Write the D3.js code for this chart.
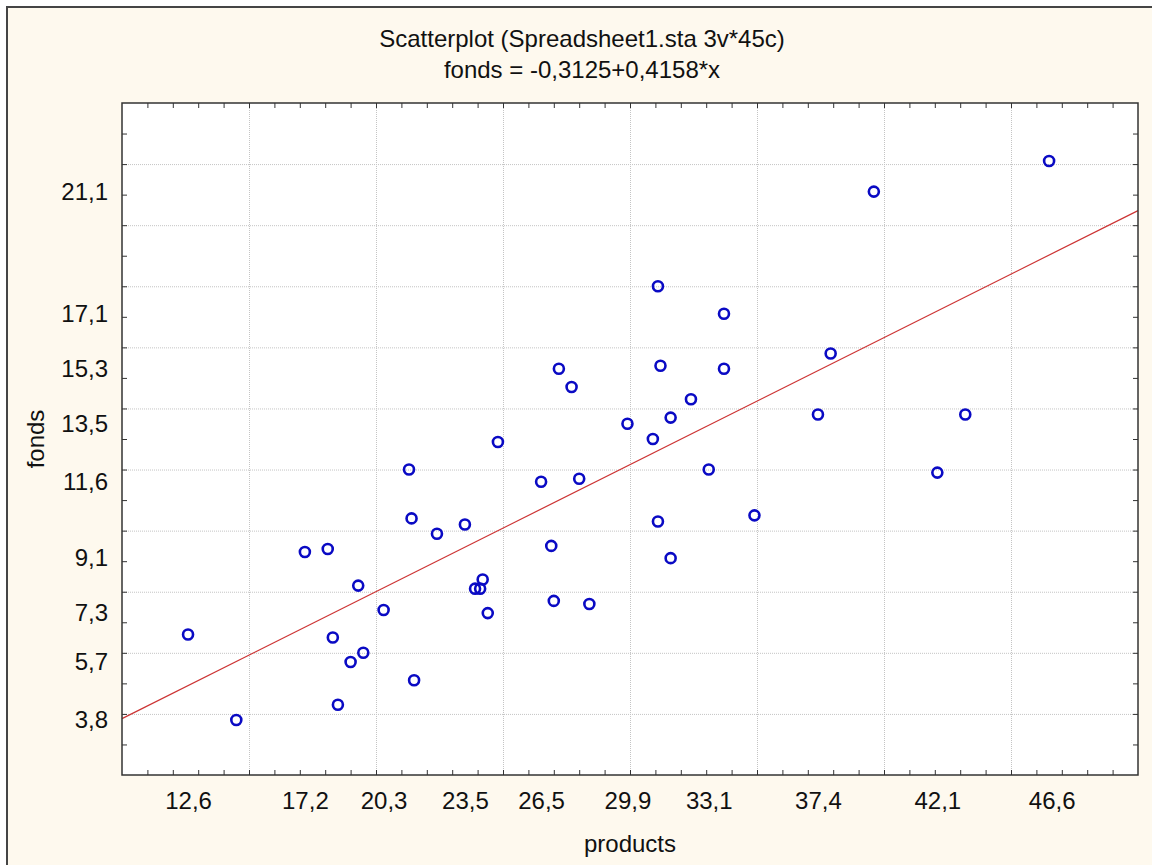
<!DOCTYPE html>
<html>
<head>
<meta charset="utf-8">
<script src="https://cdn.jsdelivr.net/npm/d3@7"></script>
<style>
	body { margin: 0; background: #fff; }
	text { font-family: 'Liberation Sans', Arial, sans-serif; fill: #111; }
	.grid line { stroke: #c4c4c4; stroke-dasharray: 1,1; }
	.grid path { stroke: none; }
	.minor line { stroke: #333; }
	.minor path { stroke: none; }
	.labels path, .labels line { stroke: none; }
</style>
</head>
<body>
<script>

// data (products, fonds)
var products = [12.6, 14.5, 17.2, 18.1, 18.3, 18.5, 19.0, 19.3, 19.5, 20.3,
	21.3, 21.4, 21.5, 22.4, 23.5, 23.9, 24.1, 24.2, 24.4, 24.8,
	26.5, 26.9, 27.0, 27.2, 27.7, 28.0, 28.4, 29.9, 30.9, 31.1,
	31.1, 31.2, 31.6, 31.6, 32.4, 33.1, 33.7, 33.7, 34.9, 37.4,
	37.9, 39.6, 42.1, 43.2, 46.5];
var fonds = [6.6, 3.8, 9.3, 9.4, 6.5, 4.3, 5.7, 8.2, 6.0, 7.4,
	12.0, 10.4, 5.1, 9.9, 10.2, 8.1, 8.1, 8.4, 7.3, 12.9,
	11.6, 9.5, 7.7, 15.3, 14.7, 11.7, 7.6, 13.5, 13.0, 18.0,
	10.3, 15.4, 13.7, 9.1, 14.3, 12.0, 17.1, 15.3, 10.5, 13.8,
	15.8, 21.1, 11.9, 13.8, 22.1];

var xTickLabels = [12.6, 17.2, 20.3, 23.5, 26.5, 29.9, 33.1, 37.4, 42.1, 46.6];
var yTickLabels = [3.8, 5.7, 7.3, 9.1, 11.6, 13.5, 15.3, 17.1, 21.1];

var xGrid = [15, 20, 25, 30, 35, 40, 45];
var yGrid = [4, 6, 8, 10, 12, 14, 16, 18, 20, 22];

var intercept = -0.3125,
	slope = 0.4158;

var titleLines = ['Scatterplot (Spreadsheet1.sta 3v*45c)', 'fonds = -0,3125+0,4158*x'];


var margin = {
	top: 103,
	left: 122
};

var width = 1016,
	height = 672;

var x = d3.scaleLinear().domain([10, 50]).range([0, width]),
	y = d3.scaleLinear().domain([2, 24]).range([height, 0]);

var comma = d3.formatLocale({decimal: ',', thousands: '.', grouping: [3], currency: ['', '']}).format('.1f');


var root = d3.select('body').append('svg')
		.attr('width', 1152)
		.attr('height', 865);

// cream window with frame
root.append('rect')
	.attr('x', 7)
	.attr('y', 7)
	.attr('width', 1160)
	.attr('height', 880)
	.style('fill', '#fef9ee')
	.style('stroke', '#454545')
	.style('stroke-width', 2);

var svg = root.append('g')
	.attr('transform', 'translate(' + margin.left + ',' + margin.top + ')');

svg.append('rect')
	.attr('width', width)
	.attr('height', height)
	.style('fill', '#fff');


// dotted grid
svg.append('g')
	.attr('class', 'grid')
	.attr('transform', 'translate(0,' + height + ')')
	.call(d3.axisBottom(x).tickValues(xGrid).tickSize(-height).tickFormat(''));

svg.append('g')
	.attr('class', 'grid')
	.call(d3.axisLeft(y).tickValues(yGrid).tickSize(-width).tickFormat(''));


// regression line
var fit = d3.line()
	.x(function(d) { return x(d); })
	.y(function(d) { return y(intercept + slope * d); });

svg.append('path')
	.datum(x.domain())
	.attr('d', fit)
	.style('fill', 'none')
	.style('stroke', '#cc3333')
	.style('stroke-width', 1.2);


// points
svg.selectAll('.dot')
	.data(products)
	.enter().append('circle')
		.attr('class', 'dot')
		.attr('cx', function(d) { return x(d); })
		.attr('cy', function(d, i) { return y(fonds[i]); })
		.attr('r', 5)
		.style('fill', 'none')
		.style('stroke', '#0a0ac4')
		.style('stroke-width', 2.6);


// inward minor ticks on all four sides
var xMinor = d3.range(11, 50),
	yMinor = d3.range(3, 24);

svg.append('g')
	.attr('class', 'minor')
	.attr('transform', 'translate(0,' + height + ')')
	.call(d3.axisBottom(x).tickValues(xMinor).tickSize(-5).tickFormat(''));
svg.append('g')
	.attr('class', 'minor')
	.call(d3.axisTop(x).tickValues(xMinor).tickSize(-5).tickFormat(''));
svg.append('g')
	.attr('class', 'minor')
	.call(d3.axisLeft(y).tickValues(yMinor).tickSize(-5).tickFormat(''));
svg.append('g')
	.attr('class', 'minor')
	.attr('transform', 'translate(' + width + ',0)')
	.call(d3.axisRight(y).tickValues(yMinor).tickSize(-5).tickFormat(''));

svg.append('rect')
	.attr('width', width)
	.attr('height', height)
	.style('fill', 'none')
	.style('stroke', '#333')
	.style('stroke-width', 1.5);


// tick labels
svg.append('g')
	.attr('class', 'labels')
	.attr('transform', 'translate(0,' + height + ')')
	.call(d3.axisBottom(x).tickValues(xTickLabels).tickSize(0).tickPadding(17).tickFormat(comma))
	.selectAll('text')
		.style('font-size', '24px')
		.style('font-family', "'Liberation Sans', Arial, sans-serif")
		.style('fill', '#111');

svg.append('g')
	.attr('class', 'labels')
	.call(d3.axisLeft(y).tickValues(yTickLabels).tickSize(0).tickPadding(14).tickFormat(comma))
	.selectAll('text')
		.style('font-size', '24px')
		.style('font-family', "'Liberation Sans', Arial, sans-serif")
		.style('fill', '#111');


// axis titles
svg.append('text')
	.attr('x', width / 2)
	.attr('y', 749)
	.style('text-anchor', 'middle')
	.style('font-size', '24px')
	.text('products');

svg.append('text')
	.attr('transform', 'rotate(-90)')
	.attr('x', 0 - (height / 2))
	.attr('y', 44 - margin.left)
	.style('text-anchor', 'middle')
	.style('font-size', '24px')
	.text('fonds');


// title
root.selectAll('.title')
	.data(titleLines)
	.enter().append('text')
		.attr('class', 'title')
		.attr('x', 582)
		.attr('y', function(d, i) { return 47 + i * 31; })
		.style('text-anchor', 'middle')
		.style('font-size', '24px')
		.text(function(d) { return d; });

</script>
</body>
</html>
